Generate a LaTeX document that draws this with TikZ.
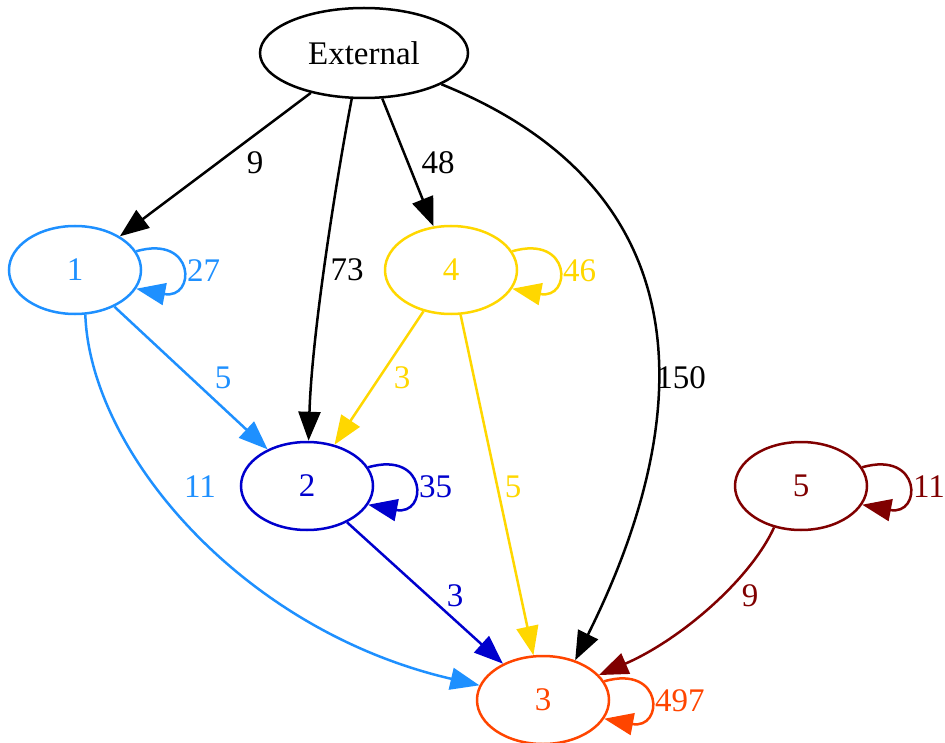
\documentclass[tikz,border=0pt]{standalone}
\usepackage{fontspec}
\setmainfont{Liberation Serif}
\usetikzlibrary{arrows.meta,shapes.geometric,calc}

\definecolor{cone}{HTML}{1E90FF}
\definecolor{ctwo}{HTML}{0000CD}
\definecolor{cthree}{HTML}{FF4500}
\definecolor{cfour}{HTML}{FFD700}
\definecolor{cfive}{HTML}{800000}

\tikzset{
  txt/.style={font=\fontsize{33}{40}\selectfont},
  vert/.style={ellipse, draw, txt, line width=2.5pt, minimum width=132pt,
    minimum height=88pt, inner sep=0pt},
  link/.style={line width=2.5pt, -{Triangle[length=29pt,width=22pt]}},
  lbl/.style={txt, inner sep=0pt},
}

% self loop on the right-hand side of a node: node, colour, label
\newcommand\selfloop[3]{%
  \draw[link,#2] (#1.17) .. controls ($(#1)+(121,-36)$) and ($(#1)+(121,30)$) .. (#1.-17);
  \node[lbl,text=#2,anchor=west] (#1-lbl) at ($(#1)+(112,1)$) {#3};}

\begin{document}
\begin{tikzpicture}[x=1pt,y=-1pt]
\useasboundingbox (0,0) rectangle (945,743);

% nodes
\node[vert, minimum width=208pt, minimum height=90pt] (ext) at (364,53) {External};
\node[vert, cone, text=cone] (n1) at (75,270) {1};
\node[vert, cfour, text=cfour] (n4) at (451,270) {4};
\node[vert, ctwo, text=ctwo] (n2) at (307,486) {2};
\node[vert, cfive, text=cfive] (n5) at (801,486) {5};
\node[vert, cthree, text=cthree] (n3) at (543,700) {3};

% edges leaving External
\draw[link] (ext) -- (n1);
\node[lbl] (l-e1) at (255,163) {9};
\draw[link] (ext.-105) .. controls (338,170) and (312,330) .. (n2.88);
\node[lbl] (l-e2) at (347,270) {73};
\draw[link] (ext) -- (n4);
\node[lbl] (l-e4) at (438,163) {48};
\draw[link] (ext.-22) .. controls (715,195) and (690,430) .. (n3.51);
\node[lbl] (l-e3) at (681,378) {150};

% edges leaving 1
\selfloop{n1}{cone}{27}
\draw[link,cone] (n1) -- (n2);
\node[lbl,text=cone] (l-12) at (223,378) {5};
\draw[link,cone] (n1.-77) .. controls (90,450) and (240,630) .. (n3.167);
\node[lbl,text=cone] (l-13) at (200,487) {11};

% edges leaving 4
\selfloop{n4}{cfour}{46}
\draw[link,cfour] (n4) -- (n2);
\node[lbl,text=cfour] (l-42) at (402,378) {3};
\draw[link,cfour] (n4) -- (n3);
\node[lbl,text=cfour] (l-43) at (513,487) {5};

% edges leaving 2
\selfloop{n2}{ctwo}{35}
\draw[link,ctwo] (n2) -- (n3);
\node[lbl,text=ctwo] (l-23) at (455,596) {3};

% edges leaving 5
\selfloop{n5}{cfive}{11}
\draw[link,cfive] (n5.-123) .. controls (750,580) and (680,640) .. (n3.24);
\node[lbl,text=cfive] (l-53) at (750,596) {9};

% loop on 3
\selfloop{n3}{cthree}{497}
\end{tikzpicture}
\end{document}
